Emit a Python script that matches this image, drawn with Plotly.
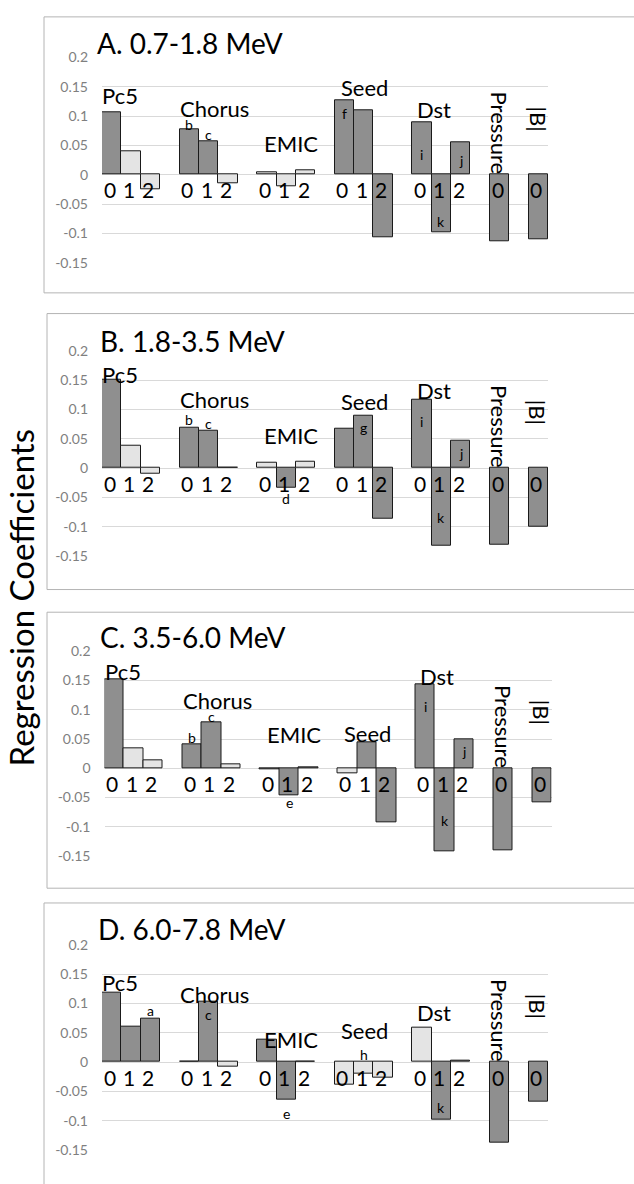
import plotly.graph_objects as go

# ---------------- data ----------------
GROUPS = ["Pc5", "Chorus", "EMIC", "Seed", "Dst", "Pressure", "|B|"]
LAGS = [[0, 1, 2], [0, 1, 2], [0, 1, 2], [0, 1, 2], [0, 1, 2], [0], [0]]

PANEL_TITLES = ["A. 0.7-1.8 MeV", "B. 1.8-3.5 MeV", "C. 3.5-6.0 MeV", "D. 6.0-7.8 MeV"]

A_VALUES = [0.107, 0.040, -0.025, 0.077, 0.057, -0.014, 0.0035, -0.020, 0.007,
            0.127, 0.110, -0.107, 0.089, -0.098, 0.055, -0.113, -0.110]
A_SIGNIF = [1, 0, 0, 1, 1, 0, 0, 0, 0, 1, 1, 1, 1, 1, 1, 1, 1]
A_LETTERS = {3: "b", 4: "c", 9: "f", 12: "i", 13: "k", 14: "j"}

B_VALUES = [0.150, 0.038, -0.010, 0.069, 0.064, 0.001, 0.0096, -0.033, 0.011,
            0.067, 0.089, -0.087, 0.117, -0.132, 0.047, -0.131, -0.100]
B_SIGNIF = [1, 0, 0, 1, 1, 1, 0, 1, 0, 1, 1, 1, 1, 1, 1, 1, 1]
B_LETTERS = {3: "b", 4: "c", 7: "d", 10: "g", 12: "i", 13: "k", 14: "j"}

C_VALUES = [0.152, 0.034, 0.013, 0.041, 0.078, 0.007, -0.001, -0.046, 0.001,
            -0.008, 0.045, -0.092, 0.143, -0.142, 0.049, -0.141, -0.059]
C_SIGNIF = [1, 0, 0, 1, 1, 0, 1, 1, 1, 0, 1, 1, 1, 1, 1, 1, 1]
C_LETTERS = {3: "b", 4: "c", 7: "e", 12: "i", 13: "k", 14: "j"}

D_VALUES = [0.118, 0.061, 0.074, 0.001, 0.103, -0.008, 0.038, -0.064, 0.001,
            -0.038, -0.020, -0.026, 0.058, -0.099, 0.002, -0.137, -0.067]
D_SIGNIF = [1, 1, 1, 0, 1, 0, 1, 1, 1, 0, 0, 0, 0, 1, 1, 1, 1]
D_LETTERS = {2: "a", 4: "c", 7: "e", 10: "h", 13: "k"}

TICK_VALS = [0.2, 0.15, 0.1, 0.05, 0, -0.05, -0.1, -0.15]
TICK_TEXT = ["0.2", "0.15", "0.1", "0.05", "0", "-0.05", "-0.1", "-0.15"]

# ---------------- layout / placement (not data) ----------------
W, H = 634, 1184
FONT = "Lato"
DARK, LIGHT = "#8f8f8f", "#e4e4e4"

# pixel geometry of each panel: (x_left, x_right, y_top(0.2), y_bottom(-0.15))
PANEL_PX = [(102, 548, 49, 257.5), (102, 548, 346.7, 555), (104.5, 551.5, 651.7, 859.3),
            (102, 548, 949.3, 1157.7)]
BOX_PX = [(44, 8, 288), (47, 309, 589), (47, 612, 892), (44, 907, 1200)]
TITLE_PX = [(95, 35), (98, 337), (98, 637), (96, 933)]
# group label centre heights (data units) per panel for the five 3-bar groups
GROUP_LABEL_Y = [[0.135, 0.113, 0.053, 0.148, 0.111],
                 [0.160, 0.117, 0.056, 0.114, 0.132],
                 [0.165, 0.116, 0.057, 0.059, 0.157],
                 [0.136, 0.115, 0.038, 0.053, 0.084]]
GROUP_LABEL_DX = [0.0, -0.08, 0.26, 0.22, 0.14]
LETTER_Y = [{3: 0.086, 4: 0.068, 9: 0.104, 12: 0.034, 13: -0.079, 14: 0.024},
            {3: 0.082, 4: 0.076, 7: -0.052, 10: 0.069, 12: 0.079, 13: -0.084, 14: 0.024},
            {3: 0.053, 4: 0.088, 7: -0.058, 12: 0.106, 13: -0.090, 14: 0.028},
            {2: 0.087, 4: 0.081, 7: -0.087, 10: 0.013, 13: -0.078}]

PANELS = [(A_VALUES, A_SIGNIF, A_LETTERS), (B_VALUES, B_SIGNIF, B_LETTERS),
          (C_VALUES, C_SIGNIF, C_LETTERS), (D_VALUES, D_SIGNIF, D_LETTERS)]

# bar slot positions derived from group structure (one empty slot between groups)
positions, lag_of_bar, group_start = [], [], []
slot = 0
for g, lags in zip(GROUPS, LAGS):
    group_start.append(slot)
    for lag in lags:
        positions.append(slot)
        lag_of_bar.append(lag)
        slot += 1
    slot += 1
n_slots = slot - 1

fig = go.Figure()
annotations, shapes = [], []

for p, (vals, sig, letters) in enumerate(PANELS):
    k = "" if p == 0 else str(p + 1)
    xl, xr, yt, yb = PANEL_PX[p]
    fig.add_trace(go.Bar(
        x=positions, y=vals, width=1.0,
        marker=dict(color=[DARK if s else LIGHT for s in sig],
                    line=dict(color="#1a1a1a", width=1)),
        xaxis="x" + k, yaxis="y" + k, showlegend=False, hoverinfo="y"))
    fig.update_layout(**{
        "xaxis" + k: dict(domain=[xl / W, xr / W], range=[-0.5, n_slots - 0.5],
                          showticklabels=False, showgrid=False, zeroline=False,
                          showline=False, anchor="y" + k, fixedrange=True),
        "yaxis" + k: dict(domain=[1 - yb / H, 1 - yt / H], range=[-0.15, 0.2],
                          tickvals=TICK_VALS, ticktext=TICK_TEXT,
                          tickfont=dict(family=FONT, size=14, color="#7f7f7f"),
                          ticklabelstandoff=13,
                          showgrid=True, gridcolor="#d9d9d9", gridwidth=1,
                          zeroline=False, showline=False, anchor="x" + k,
                          fixedrange=True),
    })
    xa, ya = "x" + k, "y" + k
    # panel box
    bx, by0, by1 = BOX_PX[p]
    shapes.append(dict(type="rect", xref="paper", yref="paper",
                       x0=bx / W, x1=1.05, y0=1 - by1 / H, y1=1 - by0 / H,
                       line=dict(color="#b4b4b4", width=1), fillcolor="rgba(0,0,0,0)",
                       layer="below"))
    # title
    tx, ty = TITLE_PX[p]
    annotations.append(dict(text=PANEL_TITLES[p], xref="paper", yref="paper",
                            x=tx / W, y=1 - ty / H, xanchor="left", yanchor="middle",
                            showarrow=False, font=dict(family=FONT, size=28, color="black")))
    # lag digits under each bar
    for xpos, lag in zip(positions, lag_of_bar):
        annotations.append(dict(text=str(lag), xref=xa, yref=ya, x=xpos, y=0,
                                yanchor="middle", yshift=-15, xshift=-2, showarrow=False,
                                font=dict(family=FONT, size=21, color="black")))
    # group labels
    for gi in range(5):
        annotations.append(dict(text=GROUPS[gi], xref=xa, yref=ya,
                                x=group_start[gi] - 0.5 + GROUP_LABEL_DX[gi],
                                xshift=-2 if gi == 0 else 0,
                                y=GROUP_LABEL_Y[p][gi], xanchor="left", yanchor="middle",
                                showarrow=False, font=dict(family=FONT, size=22, color="black")))
    annotations.append(dict(text=GROUPS[5], xref=xa, yref=ya, x=positions[15],
                            y=0.145, xanchor="center", yanchor="top", textangle=90,
                            showarrow=False, font=dict(family=FONT, size=22, color="black")))
    annotations.append(dict(text=GROUPS[6], xref=xa, yref=ya, x=positions[16],
                            y=0.12, xanchor="center", yanchor="top", textangle=90,
                            showarrow=False, font=dict(family=FONT, size=22, color="black")))
    # significance letters
    for bi, letter in letters.items():
        annotations.append(dict(text=letter, xref=xa, yref=ya, x=positions[bi],
                                y=LETTER_Y[p][bi], xanchor="center", yanchor="middle",
                                showarrow=False, font=dict(family=FONT, size=14, color="black")))

# shared y-axis title
annotations.append(dict(text="Regression Coefficients", xref="paper", yref="paper",
                        x=21 / W, y=1 - 598 / H, xanchor="center", yanchor="middle",
                        textangle=-90, showarrow=False,
                        font=dict(family=FONT, size=33, color="black")))

fig.update_layout(width=W, height=H, margin=dict(l=0, r=0, t=0, b=0),
                  paper_bgcolor="white", plot_bgcolor="white",
                  annotations=annotations, shapes=shapes, bargap=0)

fig.write_html("out.html")
